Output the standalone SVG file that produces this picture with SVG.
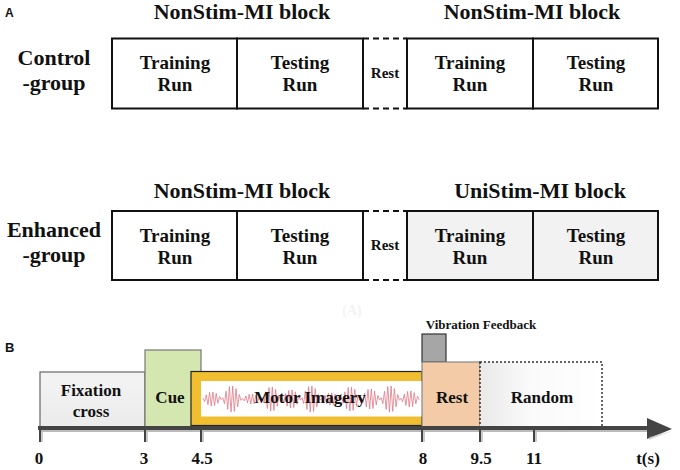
<svg xmlns="http://www.w3.org/2000/svg" width="680" height="470" viewBox="0 0 680 470">
<defs>
<style>
.box{fill:#fff;stroke:#111;stroke-width:2}
.gbox{fill:#f2f2f2;stroke:#111;stroke-width:2}
.dash{stroke:#111;stroke-width:2;stroke-dasharray:6 4;fill:none}
.tick{stroke:#444;stroke-width:2}
.tsh{stroke:#bbb;stroke-width:1.5}
</style>
<linearGradient id="rg" x1="0" y1="0" x2="1" y2="0">
<stop offset="0" stop-color="#e9e9e9"/>
<stop offset="0.4" stop-color="#fafafa"/>
<stop offset="1" stop-color="#ffffff"/>
</linearGradient>
<linearGradient id="fg" x1="0" y1="0" x2="0" y2="1">
<stop offset="0" stop-color="#f4f4f4"/>
<stop offset="1" stop-color="#ebebeb"/>
</linearGradient>
</defs>
<rect width="680" height="470" fill="#fff"/>

<g font-family="Liberation Sans" font-weight="bold" fill="#111">
<text x="5" y="17" font-size="12">A</text>
<text x="5" y="352" font-size="13">B</text>
</g>

<g id="shapes">
<g id="c-train1"><rect class="box" x="112" y="38.5" width="125" height="70"/></g>
<g id="c-test1"><rect class="box" x="237" y="38.5" width="126" height="70"/></g>
<g id="c-rest"><line class="dash" x1="363" y1="38.5" x2="407" y2="38.5"/><line class="dash" x1="363" y1="108.5" x2="407" y2="108.5"/></g>
<g id="c-train2"><rect class="box" x="407" y="38.5" width="126" height="70"/></g>
<g id="c-test2"><rect class="box" x="533" y="38.5" width="125" height="70"/></g>
<g id="e-train1"><rect class="box" x="112" y="211" width="125" height="69"/></g>
<g id="e-test1"><rect class="box" x="237" y="211" width="126" height="69"/></g>
<g id="e-rest"><line class="dash" x1="363" y1="211" x2="407" y2="211"/><line class="dash" x1="363" y1="280" x2="407" y2="280"/></g>
<g id="e-train2"><rect class="gbox" x="407" y="211" width="126" height="69"/></g>
<g id="e-test2"><rect class="gbox" x="533" y="211" width="125" height="69"/></g>

<g id="fixation"><rect x="40" y="372" width="105" height="55" fill="url(#fg)" stroke="#666" stroke-width="1.2"/></g>
<g id="cue"><rect x="145" y="350" width="56" height="77" fill="#d5e7b1" stroke="#777" stroke-width="1.2"/></g>
<g id="motor"><rect x="191" y="371.5" width="231" height="54" fill="#f0be2e" stroke="#222" stroke-width="1.2"/><rect x="201" y="381" width="221" height="35.5" fill="#fff"/>
<polyline fill="none" stroke="#e07a88" stroke-width="0.8" vector-effect="non-scaling-stroke" transform="translate(203,399) scale(1.65,1)" points="0,-0.7 1,2.5 2,-4.2 3,5.6 4,-6.7 5,7 6,-7 7,6.7 8,-5.6 9,4.2 10,-2.5 11,0.7 12,-1.3 13,4.6 14,-7.8 15,10.4 16,-12.4 17,13 18,-13 19,12.4 20,-10.4 21,7.8 22,-4.6 23,1.3 24,-0.5 25,1.8 26,-3 27,4 28,-4.8 29,5 30,-5 31,4.8 32,-4 33,3 34,-1.8 35,0.5 36,-1.2 37,4.2 38,-7.2 39,9.6 40,-11.4 41,12 42,-12 43,11.4 44,-9.6 45,7.2 46,-4.2 47,1.2 48,-0.9 49,3.2 50,-5.4 51,7.2 52,-8.6 53,9 54,-9 55,8.6 56,-7.2 57,5.4 58,-3.2 59,0.9 60,-1.3 61,4.6 62,-7.8 63,10.4 64,-12.4 65,13 66,-13 67,12.4 68,-10.4 69,7.8 70,-4.6 71,1.3 72,-0.6 73,2.1 74,-3.6 75,4.8 76,-5.7 77,6 78,-6 79,5.7 80,-4.8 81,3.6 82,-2.1 83,0.6 84,-1.2 85,4.2 86,-7.2 87,9.6 88,-11.4 89,12 90,-12 91,11.4 92,-9.6 93,7.2 94,-4.2 95,1.2 96,-1 97,3.5 98,-6 99,8 100,-9.5 101,10 102,-10 103,9.5 104,-8 105,6 106,-3.5 107,1 108,-1.3 109,4.6 110,-7.8 111,10.4 112,-12.4 113,13 114,-13 115,12.4 116,-10.4 117,7.8 118,-4.6 119,1.3 120,-0.8 121,2.8 122,-4.8 123,6.4 124,-7.6 125,8 126,-8 127,7.6 128,-6.4 129,4.8 130,-2.8 131,0.8"/></g>
<g id="vibration"><rect x="422" y="334" width="24" height="28" fill="#a6a6a6" stroke="#333" stroke-width="1.2"/></g>
<g id="rest"><rect x="422" y="362" width="58" height="65" fill="#f3cba6" stroke="#888" stroke-width="1.2"/></g>
<g id="random"><rect x="480" y="362" width="122" height="65" fill="url(#rg)" stroke="#333" stroke-width="1.5" stroke-dasharray="2 2"/></g>

<g id="axis">
<line x1="40" y1="431" x2="650" y2="431" stroke="#bbb" stroke-width="2"/>
<line x1="38" y1="428" x2="650" y2="428" stroke="#444" stroke-width="4"/>
<polygon points="647,418 672,429 647,439" fill="#444"/>
<polygon points="649,437 672,431 649,440" fill="#bbb" opacity="0.6"/>
<line class="tsh" x1="42" y1="430" x2="42" y2="442"/><line class="tick" x1="40" y1="428" x2="40" y2="442"/>
<line class="tsh" x1="147" y1="430" x2="147" y2="442"/><line class="tick" x1="145" y1="428" x2="145" y2="442"/>
<line class="tsh" x1="203" y1="430" x2="203" y2="442"/><line class="tick" x1="201" y1="428" x2="201" y2="442"/>
<line class="tsh" x1="424" y1="430" x2="424" y2="442"/><line class="tick" x1="422" y1="428" x2="422" y2="442"/>
<line class="tsh" x1="482" y1="430" x2="482" y2="442"/><line class="tick" x1="480" y1="428" x2="480" y2="442"/>
<line class="tsh" x1="536" y1="430" x2="536" y2="442"/><line class="tick" x1="534" y1="428" x2="534" y2="442"/>
</g>
</g>

<g id="labels" font-family="Liberation Serif" font-weight="bold" fill="#111" text-anchor="middle">
<text x="352" y="315" font-size="14" fill="#f3f3f3">(A)</text>
<g font-size="22">
<text x="54" y="65">Control</text><text x="54" y="90">-group</text>
<text x="242" y="19">NonStim-MI block</text>
<text x="532" y="19">NonStim-MI block</text>
<text x="54" y="237">Enhanced</text><text x="54" y="262">-group</text>
<text x="242" y="198">NonStim-MI block</text>
<text x="540" y="198">UniStim-MI block</text>
</g>
<g font-size="19">
<text x="175" y="69">Training</text><text x="175" y="91">Run</text>
<text x="300" y="69">Testing</text><text x="300" y="91">Run</text>
<text x="470" y="69">Training</text><text x="470" y="91">Run</text>
<text x="596" y="69">Testing</text><text x="596" y="91">Run</text>
<text x="175" y="242">Training</text><text x="175" y="264">Run</text>
<text x="300" y="242">Testing</text><text x="300" y="264">Run</text>
<text x="470" y="242">Training</text><text x="470" y="264">Run</text>
<text x="596" y="242">Testing</text><text x="596" y="264">Run</text>
</g>
<g font-size="15">
<text x="385" y="78">Rest</text>
<text x="385" y="250">Rest</text>
</g>
<g font-size="17">
<text x="91" y="396">Fixation</text><text x="91" y="417">cross</text>
<text x="170" y="403">Cue</text>
<text x="310" y="403">Motor Imagery</text>
<text x="452" y="403">Rest</text>
<text x="542" y="403">Random</text>
<text x="39" y="464">0</text>
<text x="144" y="464">3</text>
<text x="202" y="464">4.5</text>
<text x="423" y="464">8</text>
<text x="481" y="464">9.5</text>
<text x="534" y="464">11</text>
<text x="648" y="464">t(s)</text>
</g>
<text x="481" y="329" font-size="13">Vibration Feedback</text>
</g>
</svg>
